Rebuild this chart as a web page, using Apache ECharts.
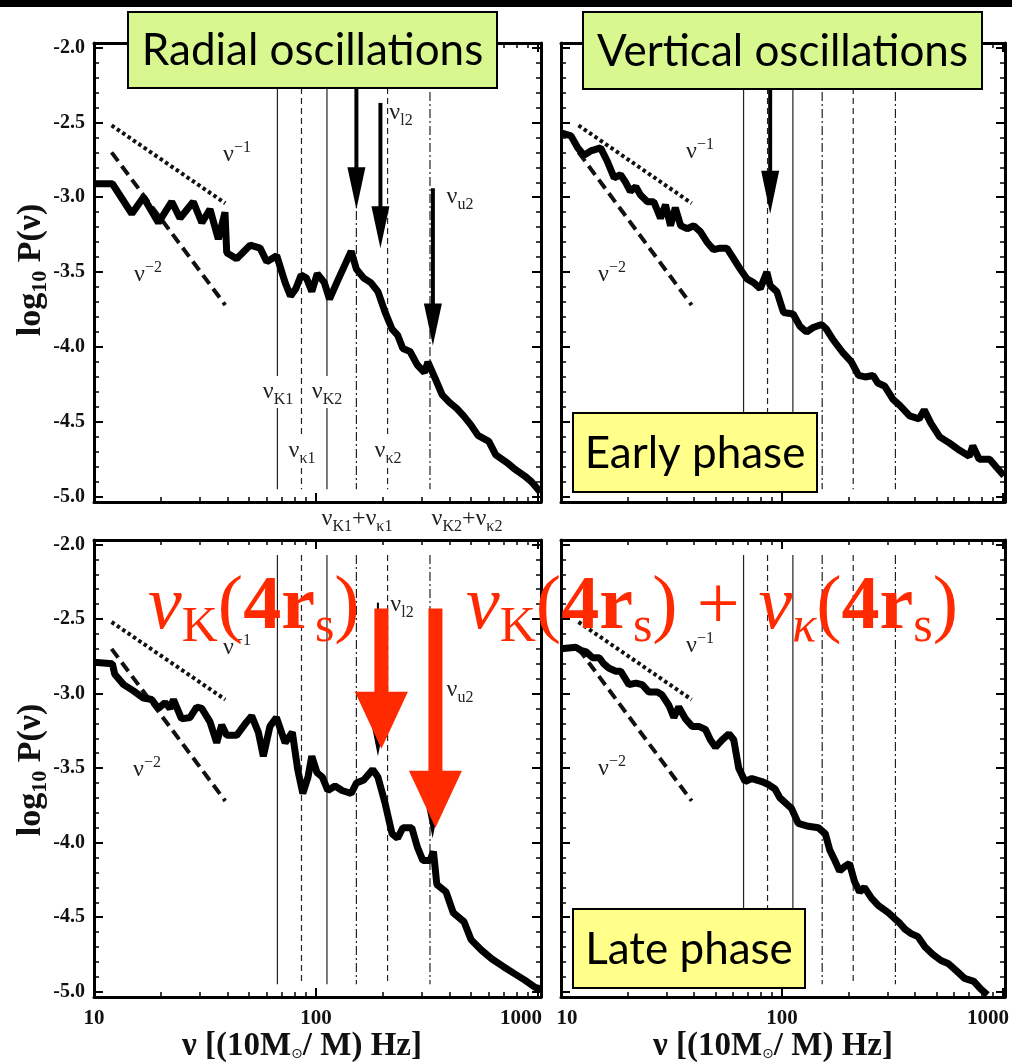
<!DOCTYPE html>
<html>
<head>
<meta charset="utf-8">
<script src="https://cdn.jsdelivr.net/npm/echarts@6.0.0/dist/echarts.min.js"></script>
<style>
html, body { margin: 0; padding: 0; background: #fff; }
#chart { width: 1012px; height: 1062px; }
</style>
</head>
<body>
<div id="chart"></div>
<script>
// power spectra: [nu, log10 P(nu)]
var radialEarly = [
	[10, -2.91], [12.1, -2.91], [14.8, -3.11], [16.7, -3.00], [19.5, -3.17], [22.4, -3.03], [24.4, -3.14],
	[28.0, -3.03], [30.6, -3.17], [33.3, -3.08], [36.3, -3.28], [38.9, -3.10], [39.6, -3.37], [43.9, -3.41],
	[50.5, -3.32], [56.0, -3.34], [60.0, -3.43], [66.5, -3.39], [72.6, -3.57], [76.7, -3.66], [81.1, -3.61],
	[85.7, -3.52], [90.6, -3.54], [95.7, -3.63], [101.3, -3.51], [109, -3.57], [115, -3.68], [124, -3.57],
	[144, -3.36], [152, -3.48], [164, -3.54], [176.5, -3.57], [190, -3.63], [205, -3.77], [220, -3.88],
	[233, -3.92], [246, -4.01], [265, -4.03], [286, -4.12], [308, -4.17], [319, -4.10], [344, -4.21],
	[370, -4.32], [399, -4.37], [430, -4.41], [462, -4.46], [498, -4.52], [536, -4.59], [600, -4.63],
	[645, -4.72], [721, -4.77], [777, -4.81], [868, -4.86], [934, -4.90], [1025, -4.97]
];
var verticalEarly = [
	[10, -2.57], [11.1, -2.59], [11.9, -2.67], [12.7, -2.72], [13.65, -2.69], [15.1, -2.67], [16.2, -2.76],
	[17.4, -2.87], [18.6, -2.85], [19.6, -2.90], [20.6, -2.96], [21.8, -2.93], [22.9, -2.985], [24.6, -3.03],
	[26.3, -3.03], [28.2, -3.14], [29.7, -3.05], [31.3, -3.19], [32.9, -3.07], [34.8, -3.19], [37.2, -3.21],
	[39.9, -3.19], [42.7, -3.23], [45.8, -3.30], [49, -3.35], [52.5, -3.34], [56.3, -3.34], [60.4, -3.41],
	[64.7, -3.48], [69.4, -3.545], [74.4, -3.57], [79.7, -3.61], [85.4, -3.50], [88.4, -3.59], [94.8, -3.63],
	[101.6, -3.77], [112.3, -3.78], [120.4, -3.86], [129, -3.90], [138.4, -3.87], [151, -3.85], [158.8, -3.88],
	[170, -3.95], [189, -4.04], [206, -4.10], [222, -4.19], [238, -4.20], [258, -4.19], [271, -4.24],
	[291, -4.26], [318, -4.35], [341, -4.39], [378, -4.46], [417, -4.48], [440, -4.42], [472, -4.51],
	[517, -4.60], [571, -4.64], [636, -4.69], [703, -4.73], [730, -4.66], [780, -4.75], [870, -4.75],
	[930, -4.80], [1010, -4.86]
];
var radialLate = [
	[10, -2.79], [12.1, -2.80], [12.4, -2.87], [13.6, -2.94], [15.0, -2.98], [16.7, -3.03], [18.2, -3.04],
	[19.5, -3.10], [20.9, -3.06], [22.0, -3.10], [22.8, -3.04], [24.8, -3.17], [27.1, -3.16], [29.0, -3.09],
	[30.6, -3.10], [33.3, -3.19], [35.7, -3.33], [37.6, -3.21], [39.6, -3.28], [43.9, -3.28], [48.7, -3.19],
	[51.3, -3.15], [55.0, -3.26], [57.9, -3.42], [62.0, -3.22], [66.3, -3.16], [72.6, -3.33], [78.2, -3.26],
	[82.7, -3.51], [87.2, -3.67], [92, -3.56], [95.7, -3.42], [101, -3.53], [106.8, -3.56], [113, -3.65],
	[121.8, -3.62], [131, -3.65], [144, -3.67], [152, -3.60], [164, -3.58], [180, -3.51], [190, -3.56],
	[205, -3.74], [220, -3.94], [233, -3.97], [246, -3.90], [270, -3.90], [286, -4.03], [303, -4.12],
	[326, -4.12], [338, -4.06], [350, -4.28], [385, -4.33], [415, -4.47], [464, -4.53], [499, -4.65],
	[555, -4.72], [620, -4.78], [696, -4.83], [776, -4.875], [868, -4.92], [970, -4.97], [1025, -4.98]
];
var verticalLate = [
	[10, -2.70], [11.7, -2.69], [12.3, -2.71], [13.0, -2.72], [13.9, -2.76], [14.9, -2.76], [15.6, -2.80],
	[16.5, -2.83], [17.7, -2.85], [18.6, -2.85], [20.3, -2.94], [21.8, -2.93], [23.3, -2.94], [25, -2.99],
	[27.3, -2.99], [28.7, -3.01], [30.8, -3.08], [32.4, -3.16], [34.1, -3.09], [36.6, -3.17], [39.2, -3.22],
	[42.0, -3.22], [45, -3.24], [47.4, -3.31], [50, -3.36], [53.6, -3.31], [57.5, -3.27], [60.5, -3.31],
	[63.7, -3.50], [68.1, -3.59], [73.1, -3.57], [81, -3.59], [86.7, -3.61], [93, -3.64], [97.9, -3.70],
	[103, -3.73], [110.4, -3.77], [118.4, -3.87], [131.6, -3.89], [146, -3.90], [157, -3.94], [164.6, -4.05],
	[173.5, -4.12], [182.3, -4.19], [192, -4.16], [202, -4.14], [212.8, -4.26], [224.4, -4.33], [236, -4.30],
	[253.5, -4.37], [272.4, -4.42], [303, -4.47], [324, -4.51], [341, -4.54], [360, -4.58], [384, -4.61],
	[412, -4.63], [444, -4.70], [482, -4.75], [524, -4.79], [564, -4.81], [616, -4.86], [670, -4.91],
	[738, -4.93], [792, -4.98], [850, -5.02]
];

// resonance frequencies drawn as vertical lines
var resFreq = [67, 86, 112, 152, 210, 326];
var resKind = ['solid', 'dashed', 'solid', 'dashdot', 'dashed', 'dashdot'];
var resSpan = [-2.07, -4.95];

// power-law guides nu^-1 and nu^-2
var slopeMinus1 = [[12, -2.52], [39, -3.04]];
var slopeMinus2 = [[12, -2.70], [39, -3.72]];

// arrows: [nu, start, tip]
var arrowsRadialEarly = [[152, -2.10, -3.08], [195, -2.37, -3.34], [336, -2.94, -3.99]];
var arrowsVerticalEarly = [[88.4, -2.10, -3.11]];
var arrowsRadialLateThin = [[190, -2.39, -3.42], [335, -2.45, -3.97]];
var arrowsRadialLateRed = [[197, -2.43, -3.37], [345, -2.43, -3.90]];

var xTickMajor = [10, 100, 1000];
var xTickMinor = [20, 30, 40, 50, 60, 70, 80, 90, 200, 300, 400, 500, 600, 700, 800, 900];
var yTickMajor = [-5.0, -4.5, -4.0, -3.5, -3.0, -2.5, -2.0];
var yTickMinor = [];
for (var k = -49; k <= -21; k++) {
	if (k % 5 !== 0) yTickMinor.push(k / 10);
}

var SERIF = '"Liberation Serif", "DejaVu Serif", serif';
var SANS = 'Lato, "Open Sans", sans-serif';
var RED = '#ff2a00';
var Y_MIN = -5.035, Y_MAX = -1.97;

var panels = [
	{ grid: { left: 94, top: 43, width: 447, height: 459 }, xMax: 1031, curve: radialEarly, yLabels: true, xLabels: false },
	{ grid: { left: 561, top: 43, width: 444, height: 459 }, xMax: 1021, curve: verticalEarly, yLabels: false, xLabels: false },
	{ grid: { left: 94, top: 540, width: 447, height: 457 }, xMax: 1031, curve: radialLate, yLabels: true, xLabels: true },
	{ grid: { left: 561, top: 540, width: 444, height: 457 }, xMax: 1021, curve: verticalLate, yLabels: false, xLabels: true }
];

function tickAxis(dim, g, pos, min, max, values, len, width, withLine, label) {
	var a = {
		gridIndex: g,
		position: pos,
		min: min,
		max: max,
		splitLine: { show: false },
		axisLine: { show: withLine, onZero: false, lineStyle: { color: '#000', width: 3 } },
		axisTick: { show: true, inside: true, length: len, customValues: values, lineStyle: { color: '#000', width: width } },
		axisLabel: label || { show: false }
	};
	if (dim === 'x') { a.type = 'log'; a.logBase = 10; } else { a.type = 'value'; }
	return a;
}

function arrowSeries(ai, data, color, shaftW, headW, headL) {
	return {
		type: 'custom',
		xAxisIndex: ai,
		yAxisIndex: ai,
		data: data,
		z: 6,
		silent: true,
		encode: { x: 0, y: [1, 2] },
		renderItem: function (params, api) {
			var s = api.coord([api.value(0), api.value(1)]);
			var t = api.coord([api.value(0), api.value(2)]);
			return {
				type: 'group',
				children: [
					{ type: 'rect', shape: { x: t[0] - shaftW / 2, y: s[1], width: shaftW, height: t[1] - headL + 2 - s[1] }, style: { fill: color } },
					{ type: 'polygon', shape: { points: [[t[0] - headW / 2, t[1] - headL], [t[0] + headW / 2, t[1] - headL], [t[0], t[1]]] }, style: { fill: color } }
				]
			};
		}
	};
}

var xAxisList = [], yAxisList = [], seriesList = [];
var dashOf = { solid: 'solid', dashed: [6, 4], dashdot: [9, 3, 2, 3] };

panels.forEach(function (p, g) {
	var xLabel = null, yLabel = null;
	var fnt = { fontFamily: SERIF, fontWeight: 'bold', fontSize: 21, color: '#111' };
	if (p.xLabels) {
		var left = g === 2;
		xLabel = {
			show: true, customValues: xTickMajor, margin: 11,
			fontFamily: SERIF, fontWeight: 'bold', fontSize: 21, color: '#111',
			formatter: function (v) {
				if (v >= 1000) return '{r|1000}';
				if (v <= 10 && !left) return '{l|10}';
				return '{m|' + Math.round(v) + '}';
			},
			rich: {
				r: Object.assign({ padding: [0, left ? 34 : 30, 0, 0] }, fnt),
				l: Object.assign({ padding: [0, 0, 0, 12] }, fnt),
				m: fnt
			}
		};
	}
	if (p.yLabels) {
		yLabel = {
			show: true, customValues: yTickMajor, margin: 9,
			fontFamily: SERIF, fontWeight: 'bold', fontSize: 20, color: '#111',
			formatter: function (v) { return v.toFixed(1); }
		};
	}
	xAxisList.push(tickAxis('x', g, 'bottom', 10, p.xMax, xTickMajor, 9, 2, true, xLabel));
	xAxisList.push(tickAxis('x', g, 'bottom', 10, p.xMax, xTickMinor, 5, 1.5, false, null));
	xAxisList.push(tickAxis('x', g, 'top', 10, p.xMax, xTickMajor, 9, 2, true, null));
	xAxisList.push(tickAxis('x', g, 'top', 10, p.xMax, xTickMinor, 5, 1.5, false, null));
	yAxisList.push(tickAxis('y', g, 'left', Y_MIN, Y_MAX, yTickMajor, 9, 2, true, yLabel));
	yAxisList.push(tickAxis('y', g, 'left', Y_MIN, Y_MAX, yTickMinor, 5, 1.5, false, null));
	yAxisList.push(tickAxis('y', g, 'right', Y_MIN, Y_MAX, yTickMajor, 9, 2, true, null));
	yAxisList.push(tickAxis('y', g, 'right', Y_MIN, Y_MAX, yTickMinor, 5, 1.5, false, null));

	var ai = 4 * g;
	resFreq.forEach(function (f, i) {
		seriesList.push({
			type: 'line', xAxisIndex: ai, yAxisIndex: ai, z: 1, silent: true, symbol: 'none',
			data: [[f, resSpan[0]], [f, resSpan[1]]],
			lineStyle: { color: '#222', width: 1.2, type: dashOf[resKind[i]] }
		});
	});
	seriesList.push({
		type: 'line', xAxisIndex: ai, yAxisIndex: ai, z: 2, silent: true, symbol: 'none',
		data: slopeMinus1, lineStyle: { color: '#111', width: 4, type: [3.5, 3] }
	});
	seriesList.push({
		type: 'line', xAxisIndex: ai, yAxisIndex: ai, z: 2, silent: true, symbol: 'none',
		data: slopeMinus2, lineStyle: { color: '#111', width: 4, type: [11, 6] }
	});
	seriesList.push({
		type: 'line', xAxisIndex: ai, yAxisIndex: ai, z: 3, silent: true, symbol: 'none',
		data: p.curve, lineStyle: { color: '#000', width: 7 }
	});
});

seriesList.push(arrowSeries(0, arrowsRadialEarly, '#000', 4, 18, 42));
seriesList.push(arrowSeries(4, arrowsVerticalEarly, '#000', 4, 18, 43));
seriesList.push(arrowSeries(8, arrowsRadialLateThin, '#000', 2, 12, 30));
seriesList.push(arrowSeries(8, arrowsRadialLateRed, RED, 14, 53, 57));

// annotation texts and boxes (rich tokens are centred on the line, top padding lowers a subscript)
var richNu = {
	n: { fontFamily: SERIF, fontSize: 24, fill: '#222' },
	s: { fontFamily: SERIF, fontSize: 16, fill: '#222', padding: [16, 0, 0, 0] },
	p: { fontFamily: SERIF, fontSize: 16, fill: '#222', padding: [0, 0, 15, 0] }
};
var richRed = {
	nu: { fontFamily: SERIF, fontStyle: 'italic', fontSize: 76, fill: RED },
	s: { fontFamily: SERIF, fontSize: 50, fill: RED, padding: [40, 0, 0, 0] },
	k: { fontFamily: SERIF, fontStyle: 'italic', fontSize: 50, fill: RED, padding: [40, 0, 0, 0] },
	b: { fontFamily: SERIF, fontWeight: 'bold', fontSize: 76, fill: RED },
	t: { fontFamily: SERIF, fontSize: 76, fill: RED }
};

function label(x, y, text, bg) {
	var st = { text: text, rich: richNu, align: 'center', verticalAlign: 'middle', fill: '#222', fontFamily: SERIF, fontSize: 24 };
	if (bg) { st.backgroundColor = '#fff'; st.padding = [0, 1]; }
	return { type: 'text', x: x, y: y, z: 100, silent: true, style: st };
}
function box(x, y, w, h, color, text) {
	return [
		{ type: 'rect', z: 100, silent: true, shape: { x: x, y: y, width: w, height: h }, style: { fill: color, stroke: '#000', lineWidth: 2 } },
		{ type: 'text', z: 101, silent: true, x: x + w / 2, y: y + h / 2 + 1, style: { text: text, align: 'center', verticalAlign: 'middle', fontFamily: SANS, fontSize: 44, fill: '#000' } }
	];
}

var graphicList = [
	{ type: 'rect', z: 100, silent: true, shape: { x: 0, y: 0, width: 1012, height: 7 }, style: { fill: '#000' } }
];
graphicList = graphicList.concat(
	box(128, 12, 369, 76, '#d9f78f', 'Radial oscillations'),
	box(583, 12, 399, 77, '#d9f78f', 'Vertical oscillations'),
	box(573, 413, 244, 79, '#ffff8a', 'Early phase'),
	box(573, 909, 232, 79, '#ffff8a', 'Late phase')
);
graphicList.push(
	label(278, 392, '{n|ν}{s|K1}', true),
	label(327, 392, '{n|ν}{s|K2}', true),
	label(302, 451, '{n|ν}{s|κ1}', true),
	label(388, 451, '{n|ν}{s|κ2}', true),
	label(357, 519, '{n|ν}{s|K1}{n|+ν}{s|κ1}', false),
	label(467, 519, '{n|ν}{s|K2}{n|+ν}{s|κ2}', false),
	label(401, 113, '{n|ν}{s|l2}', false),
	label(460, 197, '{n|ν}{s|u2}', false),
	label(237, 155, '{n|ν}{p|−1}', false),
	label(148, 275, '{n|ν}{p|−2}', false),
	label(700, 152, '{n|ν}{p|−1}', false),
	label(612, 275, '{n|ν}{p|−2}', false),
	label(237, 648, '{n|ν}{p|−1}', false),
	label(147, 770, '{n|ν}{p|−2}', false),
	label(700, 646, '{n|ν}{p|−1}', false),
	label(612, 769, '{n|ν}{p|−2}', false),
	label(402, 605, '{n|ν}{s|l2}', false),
	label(460, 690, '{n|ν}{s|u2}', false)
);

// axis titles
var richYT = {
	b: { fontFamily: SERIF, fontWeight: 'bold', fontSize: 34, fill: '#111' },
	s: { fontFamily: SERIF, fontWeight: 'bold', fontSize: 22, fill: '#111', padding: [18, 0, 0, 0] }
};
var richXT = {
	b: { fontFamily: SERIF, fontWeight: 'bold', fontSize: 33, fill: '#111' },
	s: { fontFamily: 'DejaVu Sans', fontSize: 14, fill: '#111', padding: [16, 0, 0, 0] }
};
[270, 770].forEach(function (y) {
	graphicList.push({ type: 'text', z: 100, silent: true, x: 31, y: y, rotation: Math.PI / 2,
		style: { text: '{b|log}{s|10}{b| P(ν)}', rich: richYT, align: 'center', verticalAlign: 'middle' } });
});
[302, 773].forEach(function (x) {
	graphicList.push({ type: 'text', z: 100, silent: true, x: x, y: 1046,
		style: { text: '{b|ν [(10M}{s|⊙}{b|/ M) Hz]}', rich: richXT, align: 'center', verticalAlign: 'middle' } });
});

// red formula overlays
graphicList.push(
	{ type: 'text', z: 102, silent: true, x: 148, y: 608,
		style: { text: '{nu|ν}{s|K}{t|(}{b|4r}{s|s}{t|)}', rich: richRed, align: 'left', verticalAlign: 'middle' } },
	{ type: 'text', z: 102, silent: true, x: 466, y: 608,
		style: { text: '{nu|ν}{s|K}{t|(}{b|4r}{s|s}{t|) + }{nu|ν}{k|κ}{t|(}{b|4r}{s|s}{t|)}', rich: richRed, align: 'left', verticalAlign: 'middle' } }
);

var chart = echarts.init(document.getElementById('chart'), null, { renderer: 'canvas' });
var option = {
	animation: false,
	backgroundColor: '#fff',
	textStyle: { fontFamily: SERIF },
	grid: panels.map(function (p) {
		return Object.assign({ show: false, containLabel: false, outerBoundsMode: 'none' }, p.grid);
	}),
	xAxis: xAxisList,
	yAxis: yAxisList,
	series: seriesList,
	graphic: { elements: graphicList }
};
chart.setOption(option);
</script>
</body>
</html>
